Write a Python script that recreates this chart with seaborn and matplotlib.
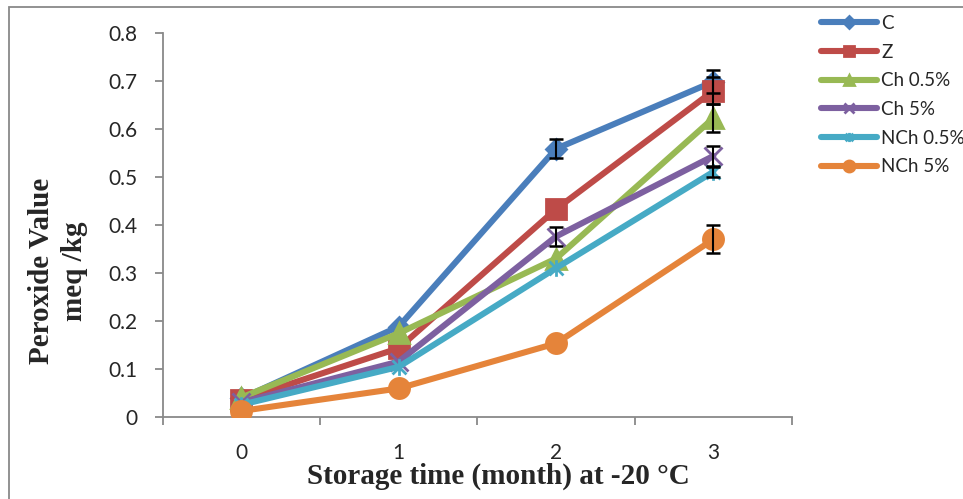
import numpy as np
import pandas as pd
import matplotlib
matplotlib.use("Agg")
import matplotlib.pyplot as plt
import seaborn as sns
from matplotlib.path import Path
from matplotlib.patches import Rectangle

# Данные
months = [0, 1, 2, 3]
month_labels = ["0", "1", "2", "3"]
groups = ["C", "Z", "Ch 0.5%", "Ch 5%", "NCh 0.5%", "NCh 5%"]
pv_c = [0.038, 0.188, 0.559, 0.699]
pv_z = [0.035, 0.143, 0.433, 0.680]
pv_ch05 = [0.040, 0.174, 0.330, 0.623]
pv_ch5 = [0.030, 0.115, 0.376, 0.544]
pv_nch05 = [0.025, 0.104, 0.310, 0.511]
pv_nch5 = [0.012, 0.059, 0.153, 0.370]
# погрешности (0 - не видна на графике)
err_c = [0, 0, 0.020, 0.024]
err_z = [0, 0, 0, 0.028]
err_ch05 = [0, 0, 0, 0.029]
err_ch5 = [0, 0, 0.019, 0.020]
err_nch05 = [0, 0, 0, 0.010]
err_nch5 = [0, 0, 0, 0.029]

values = [pv_c, pv_z, pv_ch05, pv_ch5, pv_nch05, pv_nch5]
errors = [err_c, err_z, err_ch05, err_ch5, err_nch05, err_nch5]

# Сборка длинной таблицы
df = pd.DataFrame({
    "month": months * len(groups),
    "pv": sum(values, []),
    "err": sum(errors, []),
    "group": [g for g in groups for _ in months],
})

colors = ["#4A7EBB", "#BE4B48", "#98B954", "#7D60A0", "#46AAC5", "#E5843A"]
star = Path([(-1, -1), (1, 1), (-1, 1), (1, -1), (0, -1.2), (0, 1.2)],
            [Path.MOVETO, Path.LINETO, Path.MOVETO, Path.LINETO, Path.MOVETO, Path.LINETO])
markers = ["D", "s", "^", "x", star, "o"]
msizes = [10.5, 14, 14, 13, 12, 14.5]

sns.set_style("white")
plt.rcParams["font.family"] = ["Lato", "DejaVu Sans"]

fig = plt.figure(figsize=(9.63, 4.99), dpi=100)
ax = fig.add_axes([162.7 / 963, 1 - 416.7 / 499, (792 - 162.7) / 963, (416.7 - 33.3) / 499])

for g, c, m, ms in zip(groups, colors, markers, msizes):
    sub = df[df["group"] == g]
    sns.lineplot(data=sub, x="month", y="pv", color=c, marker=m, markersize=ms,
                 markeredgecolor=c, markeredgewidth=2, linewidth=4.4, label=g, ax=ax,
                 zorder=3)
    eb = sub[sub["err"] > 0]
    ax.errorbar(eb["month"], eb["pv"], yerr=eb["err"], fmt="none", ecolor="black",
                elinewidth=1.5, capsize=5, capthick=1.8, zorder=4)

ax.set_xlim(-0.5, 3.5)
ax.set_ylim(0, 0.8)
ax.set_yticks(np.arange(0, 0.81, 0.1))
ax.set_yticklabels([f"{v:g}" for v in np.round(np.arange(0, 0.81, 0.1), 1)])
ax.set_xticks(months)
ax.set_xticklabels(month_labels)
ax.set_xticks([-0.5, 0.5, 1.5, 2.5, 3.5], minor=True)

spine_col = "#898989"
for s in ["top", "right"]:
    ax.spines[s].set_visible(False)
for s in ["left", "bottom"]:
    ax.spines[s].set_color(spine_col)
    ax.spines[s].set_linewidth(1.3)
ax.tick_params(axis="y", which="major", length=6, width=1.3, color=spine_col,
               labelsize=15, pad=12, direction="out", left=True)
ax.tick_params(axis="x", which="major", length=0, labelsize=15, pad=19, bottom=True)
ax.tick_params(axis="x", which="minor", length=6, width=1.3, color=spine_col,
               direction="out", bottom=True)
ax.set_xlabel("")
ax.set_ylabel("")
ax.grid(False)

fig.text(498.7 / 963, 1 - 476 / 499, "Storage time (month) at -20 °C",
         family="Liberation Serif", weight="bold", fontsize=21,
         ha="center", va="center")
fig.text(58 / 963, 1 - 271 / 499, "Peroxide Value\nmeq /kg",
         family="Liberation Serif", weight="bold", fontsize=21,
         ha="center", va="center", rotation=90, multialignment="center",
         linespacing=1.3)

ax.get_legend().remove()
handles, labels = ax.get_legend_handles_labels()
handles = [h for h in handles if isinstance(h, matplotlib.lines.Line2D)]
fig.legend(handles, groups, loc="upper left", bbox_to_anchor=(821 / 963, 1 - 15 / 499),
           frameon=False, fontsize=13.5, handlelength=3.0, handletextpad=0.2,
           labelspacing=0.62, markerscale=0.55, borderpad=0, borderaxespad=0)

# внешняя рамка
fig.add_artist(Rectangle((9 / 963, -0.1), 1.2, (499 - 7.3) / 499 + 0.1,
                         transform=fig.transFigure, fill=False,
                         edgecolor=spine_col, linewidth=1.3))

fig.savefig("out.png", dpi=100)
